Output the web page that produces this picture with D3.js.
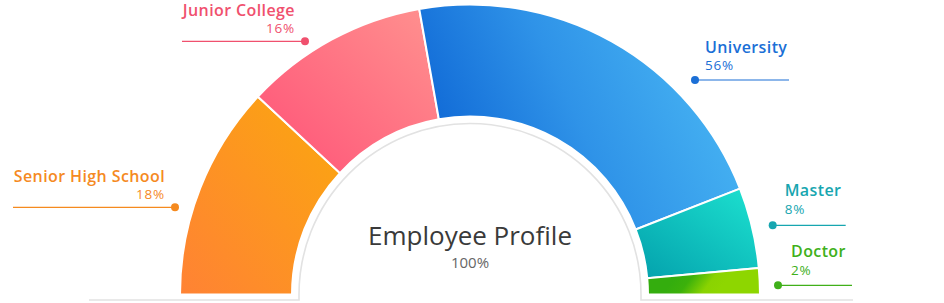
<!DOCTYPE html>
<html>
<head>
<meta charset="utf-8">
<script src="https://cdn.jsdelivr.net/npm/d3@7/dist/d3.min.js"></script>
<style>
  html, body { margin: 0; padding: 0; background: #fff; }
  svg { display: block; font-family: "Open Sans", "Noto Sans", sans-serif; }
</style>
</head>
<body>
<svg id="chart" width="944" height="303"></svg>
<script>
// ---- data ----
const categories = ["Senior High School", "Junior College", "University", "Master", "Doctor"];
const percentLabels = ["18%", "16%", "56%", "8%", "2%"];
// angular share of each slice of the half ring
const arcShare = [23.9, 20.5, 43.7, 9.0, 2.9];
const centerTitle = "Employee Profile";
const centerValue = "100%";

// ---- styling / layout (kept apart from data) ----
const labelColors = ["#f58a1f", "#f0506e", "#1b6fd6", "#17a6b0", "#40b01a"];
const gradStops = [
  [["#ff8234", 0], ["#fba80e", 1]],
  [["#ff5177", 0], ["#ff8f8e", 1]],
  [["#1069d6", 0], ["#2f93e8", 0.45], ["#4ab8f4", 1]],
  [["#03a0ac", 0], ["#1de2d0", 1]],
  [["#34ad0e", 0], ["#3cb10b", 0.3], ["#8ad301", 0.72], ["#8ed600", 1]]
];
const gradDir = [
  {x1: 0, y1: 1, x2: 1, y2: 0},
  {x1: 0, y1: 1, x2: 1, y2: 0.1},
  {x1: 0.05, y1: 0.6, x2: 1, y2: 0.3},
  {x1: 0, y1: 1, x2: 1, y2: 0},
  // user-space (relative to ring centre) for the thin last slice
  {x1: 212, y1: -26, x2: 246, y2: 0, user: true}
];
// callout anchor (relative to ring centre), leader length and text offsets
const callouts = [
  {dx: -295, dy: -87.2, len: 162, side: -1, tdx: 10, ty: -25.5, py: -8},
  {dx: -165, dy: -253.2, len: 123, side: -1, tdx: 10, ty: -25.6, py: -7.9},
  {dx: 225, dy: -214.5, len: 94, side: 1, tdx: 10, ty: -27.3, py: -10},
  {dx: 302.7, dy: -69.2, len: 73, side: 1, tdx: 12, ty: -29.3, py: -11.3},
  {dx: 308, dy: -9.2, len: 74, side: 1, tdx: 13, ty: -28, py: -10.3}
];

const W = 944, H = 303;
const cx = 470, cy = 294.5;
const outerR = 290, innerR = 178, backR = 171;

const svg = d3.select("#chart");
const defs = svg.append("defs");

gradStops.forEach((stops, i) => {
  const gd = gradDir[i];
  const g = defs.append("linearGradient").attr("id", "grad" + i)
    .attr("x1", gd.x1).attr("y1", gd.y1)
    .attr("x2", gd.x2).attr("y2", gd.y2);
  if (gd.user) g.attr("gradientUnits", "userSpaceOnUse");
  stops.forEach(([c, o]) => g.append("stop").attr("offset", o).attr("stop-color", c));
});

const blur = defs.append("filter").attr("id", "soft").attr("x", "-10%").attr("y", "-10%").attr("width", "120%").attr("height", "120%");
blur.append("feGaussianBlur").attr("stdDeviation", 0.6);

// backdrop: light grey outline of inner semicircle with base line
const bx0 = 89, bx1 = 853, by = 300;
svg.append("path")
  .attr("d", `M${bx0},${by} H${cx - backR} V${cy} A${backR},${backR} 0 0 1 ${cx + backR},${cy} V${by} H${bx1}`)
  .attr("fill", "none")
  .attr("stroke", "#e2e2e2")
  .attr("stroke-width", 1.6)
  .attr("filter", "url(#soft)");

const g = svg.append("g").attr("transform", `translate(${cx},${cy})`);

const pie = d3.pie().sort(null).startAngle(-Math.PI / 2).endAngle(Math.PI / 2).value(d => d);
const arc = d3.arc().innerRadius(innerR).outerRadius(outerR);
const arcs = pie(arcShare);

g.selectAll("path.slice").data(arcs).join("path")
  .attr("class", "slice")
  .attr("d", arc)
  .attr("fill", (d, i) => `url(#grad${i})`)
  .attr("stroke", "#fff")
  .attr("stroke-width", 2)
  .attr("stroke-linejoin", "round");

// callouts
const cg = svg.append("g");
categories.forEach((name, i) => {
  const c = callouts[i];
  const x = cx + c.dx, y = cy + c.dy;
  const col = labelColors[i];
  cg.append("line")
    .attr("x1", x).attr("y1", y)
    .attr("x2", x + c.side * c.len).attr("y2", y)
    .attr("stroke", col).attr("stroke-width", 1.2);
  cg.append("circle").attr("cx", x).attr("cy", y).attr("r", 4).attr("fill", col);
  const anchor = c.side < 0 ? "end" : "start";
  const tx = x + c.side * c.tdx;
  cg.append("text")
    .attr("x", tx).attr("y", y + c.ty)
    .attr("text-anchor", anchor)
    .attr("fill", col)
    .attr("font-size", 16)
    .attr("font-weight", 600)
    .attr("letter-spacing", 0.4)
    .text(name);
  cg.append("text")
    .attr("x", tx).attr("y", y + c.py)
    .attr("text-anchor", anchor)
    .attr("fill", col)
    .attr("font-size", 13.5)
    .attr("letter-spacing", 0.8)
    .text(percentLabels[i]);
});

// centre text
svg.append("text")
  .attr("x", cx).attr("y", 245)
  .attr("text-anchor", "middle")
  .attr("fill", "#3a3a3a")
  .attr("font-size", 26)
  .text(centerTitle);
svg.append("text")
  .attr("x", cx).attr("y", 268.3)
  .attr("text-anchor", "middle")
  .attr("fill", "#666")
  .attr("font-size", 15)
  .text(centerValue);
</script>
</body>
</html>
